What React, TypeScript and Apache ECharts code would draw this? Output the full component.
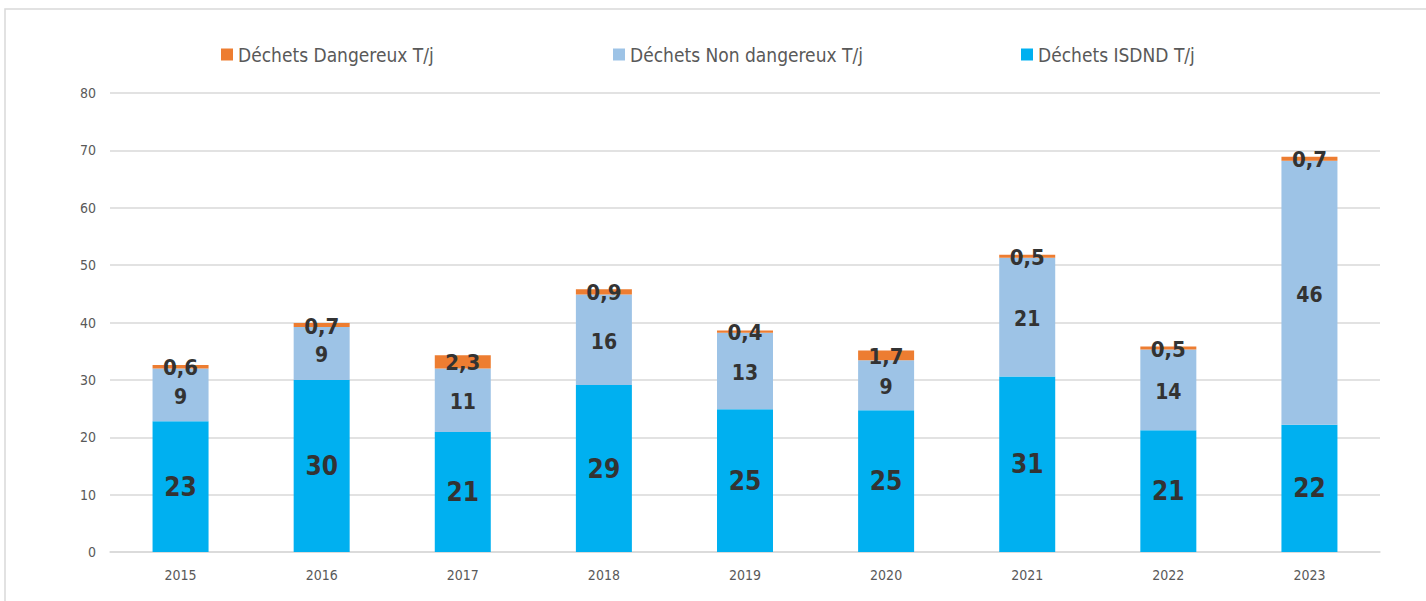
import React, { useEffect, useRef } from "react";
import * as echarts from "echarts";

const years = ["2015", "2016", "2017", "2018", "2019", "2020", "2021", "2022", "2023"];
const isdnd = [22.8, 30, 20.9, 29.1, 24.9, 24.7, 30.6, 21.2, 22.2];
const nonDangerous = [9.2, 9.2, 11.1, 15.8, 13.3, 8.7, 20.7, 14.1, 46];
const dangerous = [0.6, 0.7, 2.3, 0.9, 0.4, 1.7, 0.5, 0.5, 0.7];
const yTicks = [0, 10, 20, 30, 40, 50, 60, 70, 80];

const NAME_D = "Déchets Dangereux T/j";
const NAME_ND = "Déchets Non dangereux T/j";
const NAME_I = "Déchets ISDND T/j";

const FONT = "'Liberation Sans Narrow', 'DejaVu Sans Condensed', 'Open Sans', sans-serif";

export default function App() {
  const ref = useRef<HTMLDivElement>(null);
  useEffect(() => {
    if (!ref.current) return;
    const chart = echarts.init(ref.current, undefined, { renderer: "svg" });
    const legendText = { fontFamily: FONT, fontSize: 19, color: "#595959" };
    const mkLegend = (name: string, left: number) => ({
      data: [name],
      left,
      top: 40,
      itemWidth: 12,
      itemHeight: 12,
      icon: "rect",
      itemGap: 4,
      textStyle: legendText,
      selectedMode: false,
    });
    const labelBase = {
      show: true,
      position: "inside",
      fontFamily: FONT,
      fontWeight: "bold",
      color: "#333333",
    };
    chart.setOption({
      animation: false,
      backgroundColor: "#ffffff",
      textStyle: { fontFamily: FONT },
      graphic: [
        {
          type: "rect",
          shape: { x: 5, y: 9, width: 1440, height: 620 },
          style: { fill: "none", stroke: "#d9d9d9", lineWidth: 1.5 },
          silent: true,
          z: -10,
        },
      ],
      legend: [mkLegend(NAME_D, 216), mkLegend(NAME_ND, 608), mkLegend(NAME_I, 1016)],
      grid: { left: 110, right: 46, top: 93, bottom: 49, containLabel: false },
      xAxis: {
        type: "category",
        data: years,
        axisLine: { lineStyle: { color: "#d9d9d9", width: 1.5 } },
        axisTick: { show: false },
        axisLabel: { color: "#595959", fontSize: 14, fontFamily: FONT, margin: 16 },
      },
      yAxis: {
        type: "value",
        min: yTicks[0],
        max: yTicks[yTicks.length - 1],
        interval: 10,
        axisLine: { show: false },
        axisTick: { show: false },
        axisLabel: { color: "#595959", fontSize: 14, fontFamily: FONT, margin: 14 },
        splitLine: { lineStyle: { color: "#d9d9d9", width: 1.5 } },
      },
      series: [
        {
          name: NAME_I,
          type: "bar",
          stack: "total",
          barWidth: 56,
          data: isdnd,
          itemStyle: { color: "#00B0F0" },
          label: {
            ...labelBase,
            fontSize: 26,
            formatter: (p: any) => String(Math.round(p.value)),
          },
        },
        {
          name: NAME_ND,
          type: "bar",
          stack: "total",
          data: nonDangerous,
          itemStyle: { color: "#9DC3E6" },
          label: {
            ...labelBase,
            fontSize: 21,
            offset: [0, 2],
            formatter: (p: any) => String(Math.round(p.value)),
          },
        },
        {
          name: NAME_D,
          type: "bar",
          stack: "total",
          data: dangerous,
          itemStyle: { color: "#ED7D31" },
          label: {
            ...labelBase,
            fontSize: 22,
            offset: [0, 1],
            formatter: (p: any) => String(p.value).replace(".", ","),
          },
        },
      ],
    });
    return () => chart.dispose();
  }, []);
  return (
    <div
      ref={ref}
      style={{ position: "absolute", left: 0, top: 0, width: 1426, height: 601 }}
    />
  );
}
